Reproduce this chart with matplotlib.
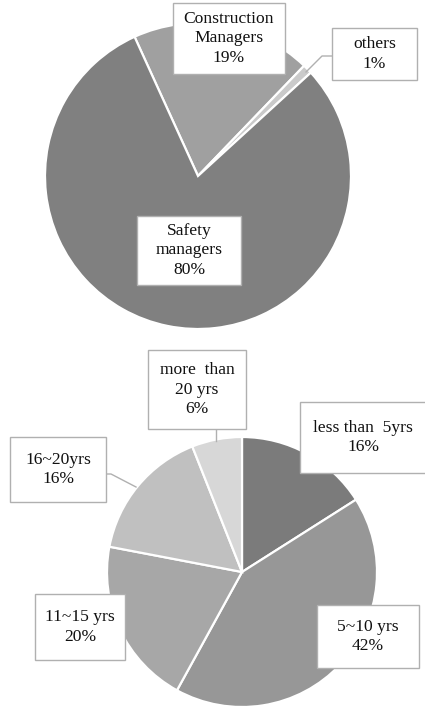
import matplotlib.pyplot as plt
from matplotlib.patches import Rectangle

plt.rcParams['font.family'] = ['Liberation Serif', 'DejaVu Serif']

# Top pie: respondents by job
job_labels = ['Construction\nManagers', 'others', 'Safety\nmanagers']
job_values = [19, 1, 80]
job_colors = ['#a0a0a0', '#cacaca', '#808080']

# Bottom pie: years of experience
exp_labels = ['less than  5yrs', '5~10 yrs', '11~15 yrs', '16~20yrs', 'more  than\n20 yrs']
exp_values = [16, 42, 20, 16, 6]
exp_colors = ['#7b7b7b', '#979797', '#a7a7a7', '#c0c0c0', '#d7d7d7']

W, H = 425, 708


def fy(y):
    # pixel row (from top) -> data y
    return H - y


fig = plt.figure(figsize=(W / 100, H / 100), dpi=100)
ax = fig.add_axes([0, 0, 1, 1])

wedge_style = dict(edgecolor='white', linewidth=1.6)

ax.pie(job_values, colors=job_colors, startangle=114.5, counterclock=False,
       center=(198, fy(176)), radius=153, wedgeprops=wedge_style, frame=True)
ax.pie(exp_values, colors=exp_colors, startangle=90, counterclock=False,
       center=(242, fy(572)), radius=135, wedgeprops=wedge_style, frame=True)

ax.set_xlim(0, W)
ax.set_ylim(0, H)
ax.set_aspect('equal')
ax.axis('off')


def label_box(x0, y0, x1, y1, text):
    ax.add_patch(Rectangle((x0, fy(y1)), x1 - x0, y1 - y0, facecolor='white',
                           edgecolor='#b0b0b0', linewidth=1.0, zorder=3))
    ax.text((x0 + x1) / 2, fy((y0 + y1) / 2), text, ha='center', va='center',
            fontsize=12.6, linespacing=1.3, color='#111111', zorder=4)


def leader(xs, ys):
    ax.plot(xs, [fy(y) for y in ys], color='#b0b0b0', linewidth=1.0, zorder=2)


# top labels
leader([332, 322, 306], [56, 56, 72])
label_box(173, 3, 285, 74, f'{job_labels[0]}\n{job_values[0]}%')
label_box(332, 28, 417, 80, f'{job_labels[1]}\n{job_values[1]}%')
label_box(137, 216, 241, 285, f'{job_labels[2]}\n{job_values[2]}%')

# bottom labels
leader([216, 216], [429, 441])
leader([106, 111, 136], [474, 474, 487])
label_box(300, 402, 426, 473, f'{exp_labels[0]}\n{exp_values[0]}%')
label_box(317, 605, 419, 668, f'{exp_labels[1]}\n{exp_values[1]}%')
label_box(35, 594, 125, 660, f'{exp_labels[2]}\n{exp_values[2]}%')
label_box(10, 437, 106, 502, f'{exp_labels[3]}\n{exp_values[3]}%')
label_box(148, 350, 246, 429, f'{exp_labels[4]}\n{exp_values[4]}%')

fig.savefig('out.png', dpi=100)
